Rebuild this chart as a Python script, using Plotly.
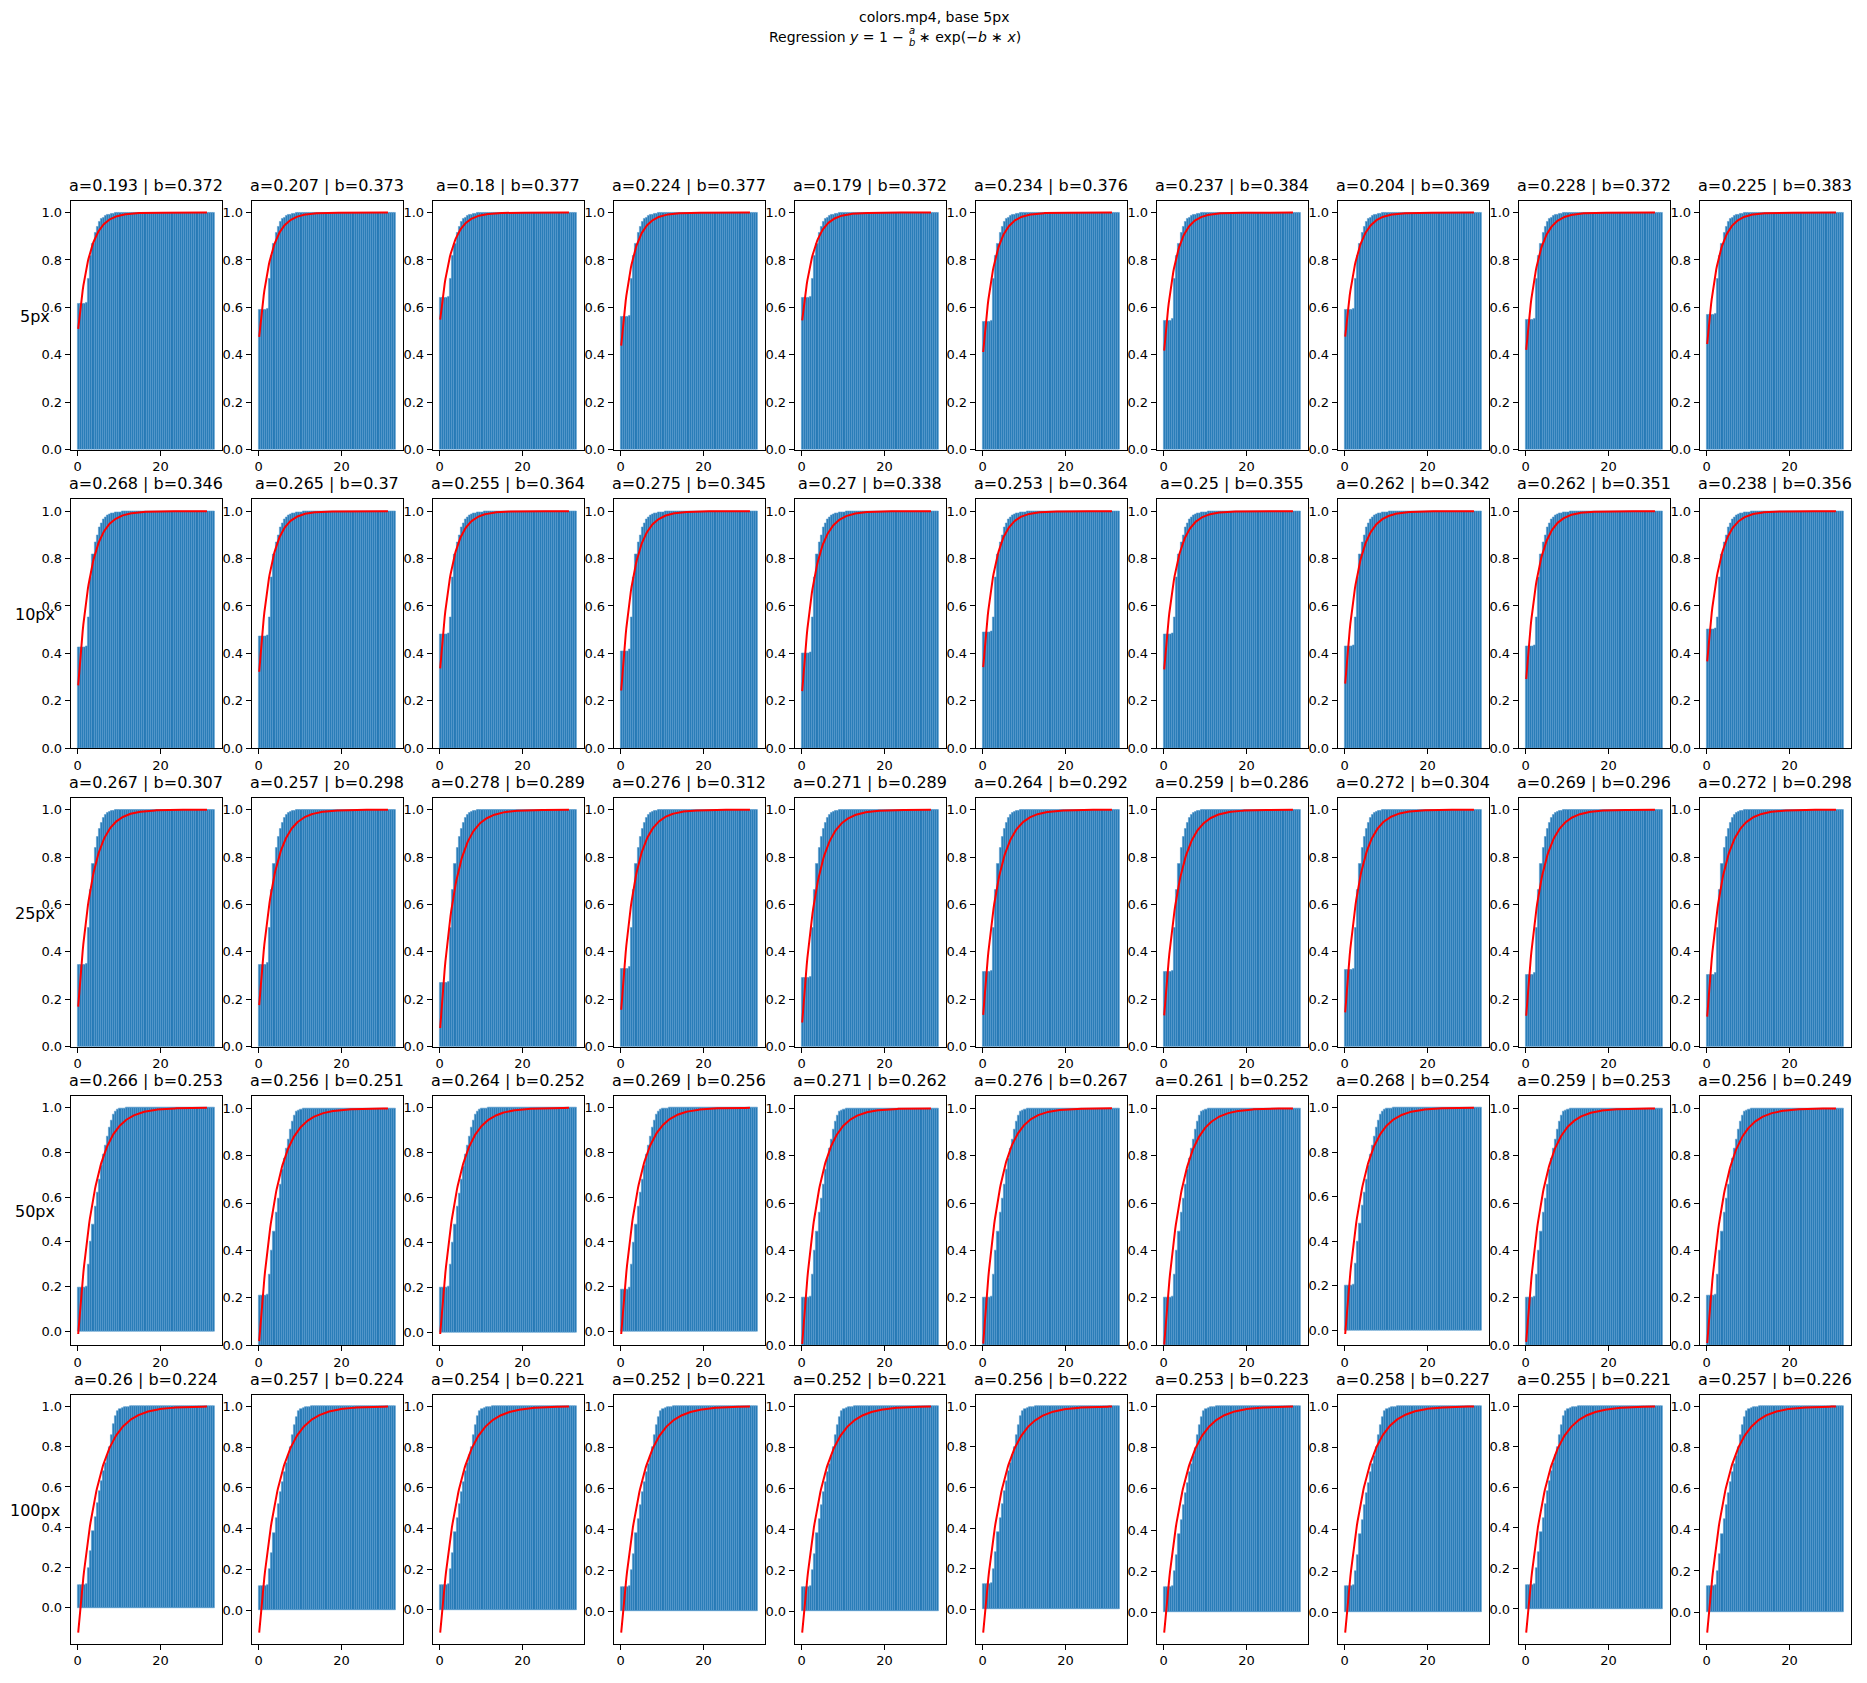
import numpy as np
import plotly.graph_objects as go

W, H = 1867, 1683

row_labels = ["5px", "10px", "25px", "50px", "100px"]

a_vals = [
    [0.193, 0.207, 0.18, 0.224, 0.179, 0.234, 0.237, 0.204, 0.228, 0.225],
    [0.268, 0.265, 0.255, 0.275, 0.27, 0.253, 0.25, 0.262, 0.262, 0.238],
    [0.267, 0.257, 0.278, 0.276, 0.271, 0.264, 0.259, 0.272, 0.269, 0.272],
    [0.266, 0.256, 0.264, 0.269, 0.271, 0.276, 0.261, 0.268, 0.259, 0.256],
    [0.26, 0.257, 0.254, 0.252, 0.252, 0.256, 0.253, 0.258, 0.255, 0.257],
]
b_vals = [
    [0.372, 0.373, 0.377, 0.377, 0.372, 0.376, 0.384, 0.369, 0.372, 0.383],
    [0.346, 0.37, 0.364, 0.345, 0.338, 0.364, 0.355, 0.342, 0.351, 0.356],
    [0.307, 0.298, 0.289, 0.312, 0.289, 0.292, 0.286, 0.304, 0.296, 0.298],
    [0.253, 0.251, 0.252, 0.256, 0.262, 0.267, 0.252, 0.254, 0.253, 0.249],
    [0.224, 0.224, 0.221, 0.221, 0.221, 0.222, 0.223, 0.227, 0.221, 0.226],
]

# first plateau level of the cumulative histogram, per panel
plateau = [
    [0.614, 0.589, 0.64, 0.561, 0.64, 0.538, 0.545, 0.589, 0.548, 0.568],
    [0.425, 0.47, 0.48, 0.41, 0.40, 0.49, 0.48, 0.43, 0.43, 0.50],
    [0.344, 0.347, 0.27, 0.33, 0.29, 0.314, 0.314, 0.323, 0.305, 0.305],
    [0.196, 0.21, 0.20, 0.19, 0.20, 0.20, 0.20, 0.20, 0.20, 0.21],
    [0.113, 0.12, 0.12, 0.12, 0.12, 0.125, 0.125, 0.125, 0.12, 0.125],
]

# cumulative histogram heights (bins of ~0.5 px) from bin 5 onward, per row
rise = [
    [0.72, 0.82, 0.87, 0.915, 0.94, 0.96, 0.972, 0.98, 0.986, 0.99, 0.993, 0.995,
     0.997, 0.998, 0.999],
    [0.55, 0.72, 0.82, 0.87, 0.90, 0.93, 0.95, 0.965, 0.975, 0.982, 0.987, 0.99,
     0.993, 0.995, 0.996, 0.997, 0.998, 0.999],
    [0.50, 0.66, 0.77, 0.84, 0.885, 0.92, 0.945, 0.965, 0.978, 0.987, 0.992, 0.995,
     0.997, 0.998, 0.999],
    [0.30, 0.40, 0.48, 0.56, 0.62, 0.68, 0.74, 0.79, 0.83, 0.87, 0.91, 0.945,
     0.97, 0.985, 0.992, 0.996, 0.998, 0.999],
    [0.20, 0.28, 0.38, 0.45, 0.52, 0.58, 0.63, 0.68, 0.72, 0.76, 0.80, 0.86,
     0.91, 0.95, 0.975, 0.988, 0.994, 0.997, 0.998, 0.999],
]

n_bins = 66
x_max = 33.1
bin_w = x_max / n_bins
bin_centers = (np.arange(n_bins) + 0.5) * bin_w
curve_x = np.linspace(0.15, 31.2, 200)

# layout geometry in pixels
left0, col_pitch, panel_w = 70.7, 181.0, 151.0
top0, row_pitch, panel_h = 201.7, 300.0, 250.0

fig = go.Figure()
annotations = []
layout = {}

FONT = "DejaVu Sans"

for r in range(5):
    for c in range(10):
        idx = r * 10 + c + 1
        xa = "x" if idx == 1 else f"x{idx}"
        ya = "y" if idx == 1 else f"y{idx}"
        p = plateau[r][c]
        heights = [p] * 4 + [p + 0.005]
        heights += [max(v, p) for v in rise[r]]
        heights += [1.0] * (n_bins - len(heights))
        a = a_vals[r][c]
        b = b_vals[r][c]
        cy = 1 - a / b * np.exp(-b * curve_x)

        fig.add_trace(go.Bar(
            x=bin_centers, y=heights, width=bin_w,
            marker=dict(color="#2679b6",
                        line=dict(color="#5b9cce", width=0.6)),
            xaxis=xa, yaxis=ya, showlegend=False, hoverinfo="skip"))
        fig.add_trace(go.Scatter(
            x=curve_x, y=cy, mode="lines",
            line=dict(color="red", width=2),
            xaxis=xa, yaxis=ya, showlegend=False, hoverinfo="skip"))

        lo = min(0.0, float(cy.min()))
        span = 1.0 - lo
        ylo = lo - 0.05 * span if lo < 0 else 0.0
        yhi = 1.0 + 0.05 * span

        L = left0 + c * col_pitch
        T = top0 + r * row_pitch
        kx = "xaxis" if idx == 1 else f"xaxis{idx}"
        ky = "yaxis" if idx == 1 else f"yaxis{idx}"
        layout[kx] = dict(
            domain=[L / W, (L + panel_w) / W], anchor=ya,
            range=[-0.05 * x_max, x_max * 1.05],
            tickvals=[0, 20], ticktext=["0", "20"],
            ticks="outside", ticklen=5, tickcolor="black",
            showline=True, linecolor="black", linewidth=1, mirror=True,
            showgrid=False, zeroline=False,
            tickfont=dict(family=FONT, size=13, color="black"))
        layout[ky] = dict(
            domain=[1 - (T + panel_h) / H, 1 - T / H], anchor=xa,
            range=[ylo, yhi],
            tickvals=[0, 0.2, 0.4, 0.6, 0.8, 1.0],
            ticktext=["0.0", "0.2", "0.4", "0.6", "0.8", "1.0"],
            ticks="outside", ticklen=5, tickcolor="black",
            showline=True, linecolor="black", linewidth=1, mirror=True,
            showgrid=False, zeroline=False,
            tickfont=dict(family=FONT, size=13, color="black"))

        annotations.append(dict(
            text=f"a={a} | b={b}", x=(L + panel_w / 2) / W, y=1 - (T - 4) / H,
            xref="paper", yref="paper", xanchor="center", yanchor="bottom",
            showarrow=False, font=dict(family=FONT, size=16, color="black")))

    T = top0 + r * row_pitch
    annotations.append(dict(
        text=row_labels[r], x=34.5 / W, y=1 - (T + panel_h / 2 - 9) / H,
        xref="paper", yref="paper", xanchor="center", yanchor="middle",
        showarrow=False, font=dict(family=FONT, size=16, color="black")))

# suptitle
annotations.append(dict(
    text="colors.mp4, base 5px", x=0.5, y=1 - 17 / H,
    xref="paper", yref="paper", xanchor="center", yanchor="middle",
    showarrow=False, font=dict(family=FONT, size=14, color="black")))
annotations.append(dict(
    text="Regression <i>y</i> = 1 −", x=906 / W, y=1 - 37 / H,
    xref="paper", yref="paper", xanchor="right", yanchor="middle",
    showarrow=False, font=dict(family=FONT, size=14, color="black")))
annotations.append(dict(
    text="<i>a</i>", x=911.5 / W, y=1 - 31 / H,
    xref="paper", yref="paper", xanchor="center", yanchor="middle",
    showarrow=False, font=dict(family=FONT, size=10, color="black")))
annotations.append(dict(
    text="<i>b</i>", x=911.5 / W, y=1 - 43 / H,
    xref="paper", yref="paper", xanchor="center", yanchor="middle",
    showarrow=False, font=dict(family=FONT, size=10, color="black")))
annotations.append(dict(
    text="∗ exp(−<i>b</i> ∗ <i>x</i>)", x=917 / W, y=1 - 37 / H,
    xref="paper", yref="paper", xanchor="left", yanchor="middle",
    showarrow=False, font=dict(family=FONT, size=14, color="black")))

fig.update_layout(
    width=W, height=H, margin=dict(l=0, r=0, t=0, b=0),
    paper_bgcolor="white", plot_bgcolor="white",
    bargap=0, annotations=annotations,
    font=dict(family=FONT, color="black"),
    **layout)

fig.write_html("out.html")
